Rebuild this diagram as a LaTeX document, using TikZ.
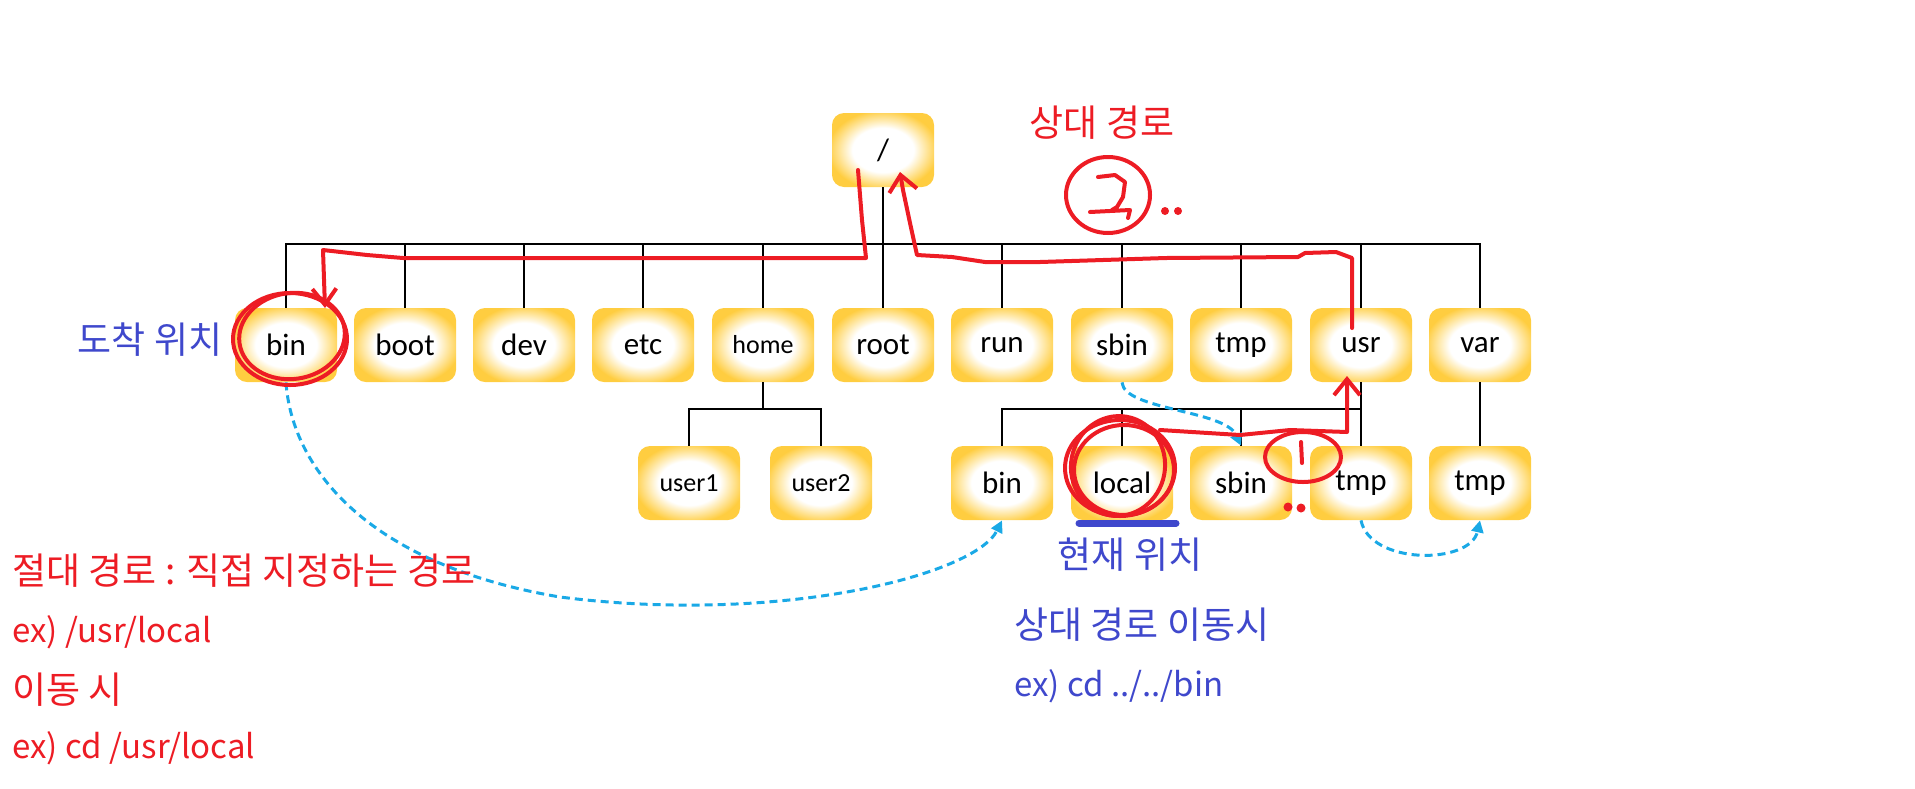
\documentclass[tikz,border=0pt]{standalone}
\usepackage{fontspec}
\setmainfont{Carlito}
\newfontfamily\kor{Noto Sans CJK KR}
\usepackage{tikz}
\definecolor{jaune}{RGB}{255,205,64}
\definecolor{rouge}{HTML}{ED1C24}
\definecolor{bleu}{HTML}{3F48CC}
\definecolor{ciel}{HTML}{1AA9E6}
\usetikzlibrary{arrows.meta,calc}
\pgfdeclareradialshading{lueur}{\pgfpoint{0bp}{0bp}}{color(0bp)=(white); color(15bp)=(white); color(27bp)=(jaune); color(50bp)=(jaune)}
\tikzset{boite/.style={
    rectangle,
    rounded corners=6pt,
    minimum width=51pt,
    minimum height=37pt,
    shading=lueur,
    font=\fontsize{15.5}{18}\selectfont}}
\tikzset{lien/.style={
    line width=1.1pt,
    draw=black}}
\tikzset{trace/.style={
    line width=2pt,
    draw=rouge,
    line cap=round,
    line join=round}}
\tikzset{pointille/.style={
    -{Triangle[length=6pt,width=6pt]},
    line width=1.5pt,
    draw=ciel,
    dash pattern=on 4pt off 2.5pt}}
\tikzset{note/.style={
    font=\kor\fontsize{18.5}{22}\selectfont,
    inner sep=0pt}}
\tikzset{exemple/.style={
    font=\kor\fontsize{16.5}{19}\selectfont,
    inner sep=0pt}}

\begin{document}
\begin{tikzpicture}[x=0.5pt, y=-0.5pt]
  \useasboundingbox (0,0) rectangle (1915,788);
  \coordinate (barre) at (0,244);
  \coordinate (barre2) at (0,409);

\node[boite] (racine) at (883,150) {/};

\node[boite] (bin) at (286,345) {bin};
\node[boite] (boot) at (405,345) {boot};
\node[boite] (dev) at (524,345) {dev};
\node[boite] (etc) at (643,345) {etc};
\node[boite, font=\fontsize{13}{16}\selectfont] (home) at (763,345) {home};
\node[boite] (root) at (883,345) {root};
\node[boite] (run) at (1002,345) {run};
\node[boite] (sbin) at (1122,345) {sbin};
\node[boite] (tmp) at (1241,345) {tmp};
\node[boite] (usr) at (1361,345) {usr};
\node[boite] (var) at (1480,345) {var};

\node[boite, font=\fontsize{13}{16}\selectfont] (user1) at (689,483) {user1};
\node[boite, font=\fontsize{13}{16}\selectfont] (user2) at (821,483) {user2};
\node[boite] (bin2) at (1002,483) {bin};
\node[boite] (local) at (1122,483) {local};
\node[boite] (sbin2) at (1241,483) {sbin};
\node[boite] (tmp2) at (1361,483) {tmp};
\node[boite] (tmp3) at (1480,483) {tmp};

  \draw[lien] (racine.south) -- (racine.south |- barre)
    (bin.north) |- (var.north |- barre) -- (var.north)
    (boot.north) -- (boot.north |- barre)
    (dev.north) -- (dev.north |- barre)
    (etc.north) -- (etc.north |- barre)
    (home.north) -- (home.north |- barre)
    (root.north) -- (root.north |- barre)
    (run.north) -- (run.north |- barre)
    (sbin.north) -- (sbin.north |- barre)
    (tmp.north) -- (tmp.north |- barre)
    (usr.north) -- (usr.north |- barre);
  \draw[lien] (home.south) -- (home.south |- barre2)
    (user1.north) |- (user2.north |- barre2) -- (user2.north)
    (usr.south) -- (usr.south |- barre2)
    (bin2.north) |- (tmp2.north |- barre2) -- (tmp2.north)
    (local.north) -- (local.north |- barre2)
    (sbin2.north) -- (sbin2.north |- barre2)
    (var.south) -- (tmp3.north);

  \path[pointille] (bin.south) .. controls (292,470) and (370,565) .. (560,597)
    .. controls (780,625) and (975,575) .. (bin2.south);
  \path[pointille] (sbin.south) .. controls (1124,410) and (1225,410) .. (sbin2.north);
  \path[pointille] (tmp2.south) .. controls (1370,565) and (1470,565) .. (tmp3.south);

  \draw[trace, -{Straight Barb[length=8pt,width=13pt]}] (1160,430) -- (1240,435)
    -- (1290,430) -- (1347,432) -- (1347,376);
  \draw[trace, -{Straight Barb[length=8pt,width=14pt]}] (1352,328) -- (1352,258)
    -- (1336,252) -- (1305,253) -- (1298,257) -- (1166,258) -- (1040,262)
    -- (985,262) -- (952,257) -- (917,255) -- (910,223) -- (903,190) -- (900,172);
  \draw[trace, -{Straight Barb[length=8pt,width=12pt]}] (858,170) -- (862,220)
    -- (866,258) -- (403,258) -- (367,255) -- (323,250) -- (325,308);

  \draw[trace] (290,339) ellipse [x radius=57, y radius=46];
  \draw[trace, rotate around={8:(292,336)}] (292,336) ellipse [x radius=53, y radius=43];
  \draw[trace] (1120,468) ellipse [x radius=55, y radius=48];
  \draw[trace] (1124,470) ellipse [x radius=50, y radius=45];
  \draw[trace, rotate around={-10:(1118,466)}] (1118,466) ellipse [x radius=47, y radius=50];
  \draw[trace] (1303,457) ellipse [x radius=38, y radius=25];
  \draw[trace] (1301,442) -- (1302,463);
  \draw[trace] (1108,195) ellipse [x radius=42, y radius=38];
  \draw[trace] (1098,177) -- (1115,175) -- (1125,182) -- (1123,197) -- (1117,207) -- (1112,210)
    (1090,212) -- (1130,210) -- (1128,218);
  \fill[rouge] (1288,507) circle (4.5) (1301,508) circle (4.5)
    (1165,211) circle (4) (1178,211) circle (4);
  \draw[line width=3.5pt, bleu, line cap=round] (1079,523) -- (1176,523);

\node[note, text=rouge] (relatif) at (1102,123) {상대 경로};
\node[note, text=bleu] (arrivee) at (150,340) {도착 위치};
\node[note, text=bleu] (actuel) at (1130,555) {현재 위치};
\node[note, text=rouge, anchor=west] (absolu) at (12,571) {절대 경로 : 직접 지정하는 경로};
\node[exemple, text=rouge, anchor=west] (absolu2) at (12,632) {ex) /usr/local};
\node[note, text=rouge, anchor=west] (absolu3) at (12,690) {이동 시};
\node[exemple, text=rouge, anchor=west] (absolu4) at (12,748) {ex) cd /usr/local};
\node[note, text=bleu, anchor=west] (relatif2) at (1014,625) {상대 경로 이동시};
\node[exemple, text=bleu, anchor=west] (relatif3) at (1014,686) {ex) cd ../../bin};
\end{tikzpicture}
\end{document}
